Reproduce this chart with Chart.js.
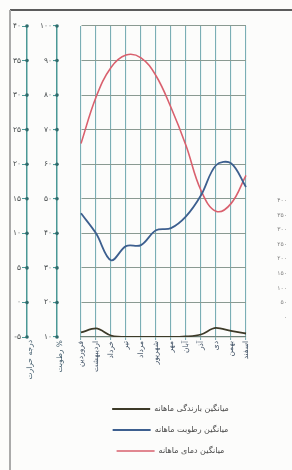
<!DOCTYPE html>
<html lang="fa">
<head>
<meta charset="utf-8">
<title>نمودار اقلیمی</title>
<script src="https://cdn.jsdelivr.net/npm/chart.js@4.4.1/dist/chart.umd.min.js"></script>
<style>
  html, body { margin: 0; padding: 0; background: #fcfcfb; }
  #wrap { position: relative; width: 292px; height: 470px; overflow: hidden; }
  #wrap canvas { position: absolute; left: 0; top: 0; }
  .edge-top { position: absolute; left: 10px; right: 0; top: 9px; height: 2px; background: #5c5c5c; }
  .edge-left { position: absolute; left: 9px; top: 10px; bottom: 0; width: 2px; background: #aaaaaa; }
</style>
</head>
<body>
<div id="wrap">
  <div class="edge-top"></div>
  <div class="edge-left"></div>
  <canvas id="chart"></canvas>
</div>
<script>
const months = ['فروردین', 'اردیبهشت', 'خرداد', 'تیر', 'مرداد', 'شهریور', 'مهر', 'آبان', 'آذر', 'دی', 'بهمن', 'اسفند'];
const seriesNames = ['میانگین بارندگی ماهانه', 'میانگین رطوبت ماهانه', 'میانگین دمای ماهانه'];
const axisTitles = ['درجه حرارت', 'رطوبت %'];

const tempTicks = [-5, 0, 5, 10, 15, 20, 25, 30, 35, 40];
const humTicks = [10, 20, 30, 40, 50, 60, 70, 80, 90, 100];
const rainTicks = [0, 50, 100, 150, 200, 250, 300, 350, 400];

const rainfall = [9, 17, 3, 0, 0, 0, 0, 1, 5, 18, 12, 7];
const humidity = [45.8, 40, 32.2, 36.3, 36.6, 40.9, 41.5, 44.9, 51, 59.7, 60.3, 53.4];
const temperature = [23, 29.7, 34, 35.8, 35.4, 32.8, 28.2, 22.7, 16.2, 13.2, 14.3, 18.4];

const faDigits = '۰۱۲۳۴۵۶۷۸۹';
const fa = v => String(v).replace(/\d/g, d => faDigits[d]);

Chart.defaults.font.family = "'DejaVu Sans', 'Noto Sans', sans-serif";

// dots on the two left axis lines and the titles under them
const axisMarks = {
    id: 'axisMarks',
    afterLayout(chart) {
        // legend block sits a little right of the plot centre
        chart.legend.left += 7;
        chart.legend.right += 7;
    },
    afterDraw(chart) {
        const ctx = chart.ctx;
        ['yT', 'yH'].forEach((id, i) => {
            const s = chart.scales[id];
            ctx.save();
            ctx.fillStyle = '#2e6b6c';
            s.ticks.forEach(t => {
                ctx.beginPath();
                ctx.arc(s.right, s.getPixelForValue(t.value), 1.8, 0, Math.PI * 2);
                ctx.fill();
            });
            ctx.translate(s.right + 3, s.bottom + 3);
            ctx.rotate(-Math.PI / 2);
            ctx.font = "7.5px 'DejaVu Sans', sans-serif";
            ctx.fillStyle = '#3f5a6a';
            ctx.textAlign = 'right';
            ctx.textBaseline = 'middle';
            ctx.fillText(axisTitles[i], 0, 0);
            ctx.restore();
        });
    }
};

new Chart(document.getElementById('chart'), {
    type: 'line',
    data: {
        labels: months,
        datasets: [
            {
                label: seriesNames[0],
                data: rainfall,
                yAxisID: 'yR',
                borderColor: '#3d3a28',
                borderWidth: 1.8,
                pointRadius: 0,
                cubicInterpolationMode: 'monotone'
            },
            {
                label: seriesNames[1],
                data: humidity,
                yAxisID: 'yH',
                borderColor: '#3d5f8f',
                borderWidth: 1.8,
                pointRadius: 0,
                tension: 0.35
            },
            {
                label: seriesNames[2],
                data: temperature,
                yAxisID: 'yT',
                borderColor: '#d9606e',
                borderWidth: 1.6,
                pointRadius: 0,
                tension: 0.4
            }
        ]
    },
    options: {
        responsive: true,
        maintainAspectRatio: false,
        animation: false,
        layout: { padding: { top: 26, left: 0, right: 5, bottom: 5 } },
        plugins: {
            tooltip: { enabled: false },
            legend: {
                position: 'bottom',
                fullSize: false,
                align: 'center',
                labels: {
                    usePointStyle: true,
                    pointStyle: 'line',
                    pointStyleWidth: 38,
                    padding: 13,
                    color: '#4a4a4a',
                    font: { size: 8 }
                }
            }
        },
        scales: {
            x: {
                grid: { color: '#7aaeb5', lineWidth: 1.1, tickLength: 3 },
                border: { color: '#6f827a', width: 1.2 },
                ticks: {
                    minRotation: 90, maxRotation: 90, autoSkip: false, padding: 1,
                    color: '#3e4f63', font: { size: 7.5 }
                },
                afterFit: s => { s.height = 55; }
            },
            yT: {
                position: 'left', weight: 3, min: -5, max: 40,
                afterBuildTicks: s => { s.ticks = tempTicks.map(v => ({ value: v })); },
                afterFit: s => { s.width = 27; },
                grid: { drawOnChartArea: false, tickLength: 5, color: '#4b9896' },
                border: { color: '#4b9896', width: 1.5 },
                ticks: { padding: 1, color: '#454a4c', font: { size: 7.5 }, callback: v => fa(v) }
            },
            yH: {
                position: 'left', weight: 2, min: 10, max: 100,
                afterBuildTicks: s => { s.ticks = humTicks.map(v => ({ value: v })); },
                afterFit: s => { s.width = 30; },
                grid: { color: '#8a9a92', lineWidth: 1.1, tickLength: 4, tickColor: '#4b9896' },
                border: { color: '#4b9896', width: 1.5 },
                ticks: { padding: 1, color: '#454a4c', font: { size: 7.5 }, callback: v => fa(v) }
            },
            gap: {
                position: 'left', weight: 1,
                afterFit: s => { s.width = 24; },
                grid: { display: false },
                border: { display: false },
                ticks: { display: false }
            },
            yF: {
                position: 'right', min: -68, max: 998,
                afterBuildTicks: s => { s.ticks = rainTicks.map(v => ({ value: v })); },
                afterFit: s => { s.width = 41; },
                grid: { display: false },
                border: { display: false },
                ticks: { crossAlign: 'far', color: '#808080', font: { size: 6 }, callback: v => fa(v) }
            },
            yR: { display: false, min: 0, max: 620 }
        }
    },
    plugins: [axisMarks]
});
</script>
</body>
</html>
